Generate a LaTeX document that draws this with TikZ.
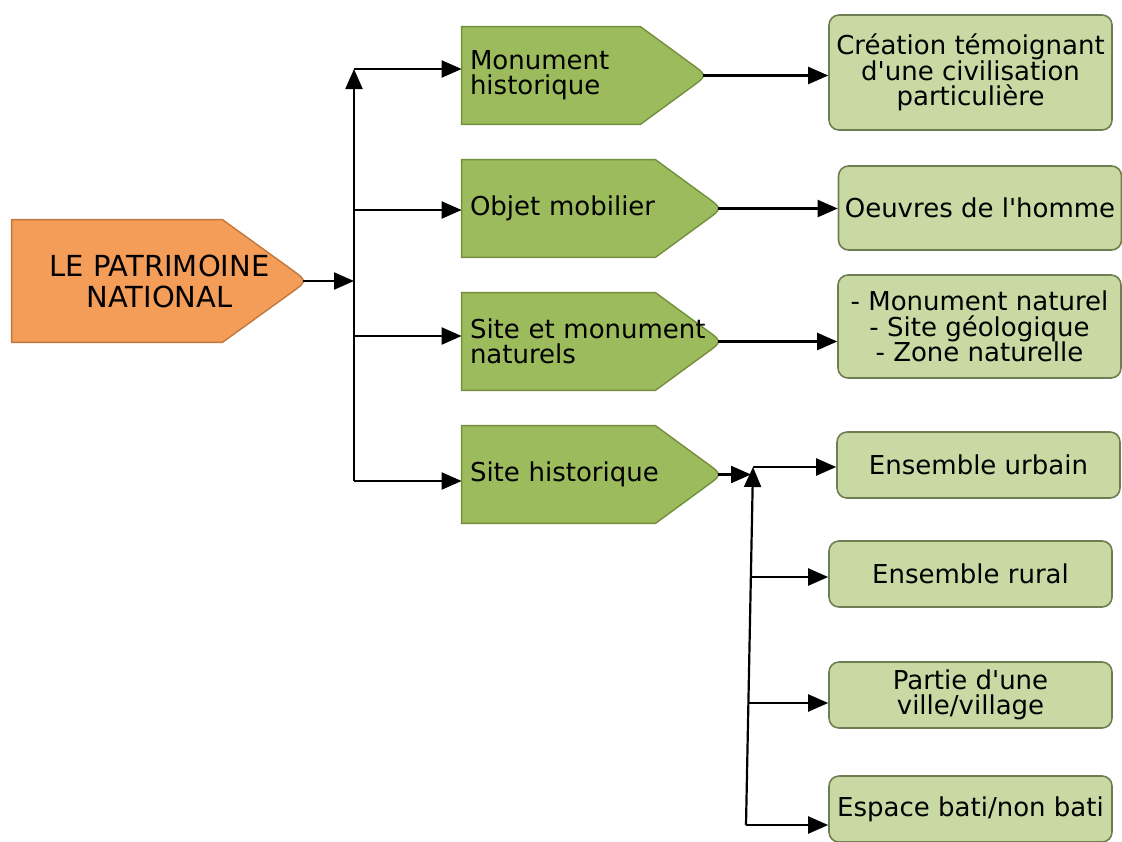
\documentclass[tikz,border=0pt]{standalone}
\usepackage{fontspec}
\newfontfamily\diafont{DejaVu Sans}
\usetikzlibrary{arrows.meta}
\usetikzlibrary{backgrounds}
\usepackage{xcolor}
\definecolor{rootorange}{HTML}{F49D59}
\definecolor{rootedge}{HTML}{C0783E}
\definecolor{flaggreen}{HTML}{9CBB5C}
\definecolor{flagedge}{HTML}{738F3E}
\definecolor{leafgreen}{HTML}{C8D9A3}
\definecolor{leafedge}{HTML}{6F7D52}

\begin{document}
\begin{tikzpicture}[
		% Style definitions
		x=0.5pt, y=-0.5pt,
		root/.style={minimum width=147.5pt, minimum height=61pt, inner sep=0pt, align=center, font=\diafont\fontsize{14.5}{15.5}\selectfont},
		flag/.style={minimum height=48.5pt, inner xsep=4pt, inner ysep=0pt, text width=122pt, align=left, font=\diafont\fontsize{13}{12.6}\selectfont},
		leaf/.style={draw=leafedge, fill=leafgreen, line width=0.8pt, rounded corners=5pt, minimum width=141.5pt, inner sep=0pt, align=center, font=\diafont\fontsize{13}{12.8}\selectfont},
		outline/.style={line width=0.7pt},
		arrow/.style={-{Triangle[length=10pt, width=8.5pt]}, line width=1.1pt},
		]
		\useasboundingbox (0,0) rectangle (1122,841);

		% === Root and main branches ===
		\node[root] (root) at (159.5,281) {LE PATRIMOINE\\NATIONAL};
		\node[flag, text width=114.5pt] (mon) at (584.5,75.5) {Monument\\historique};
		\node[flag] (obj) at (592,208.5) {Objet mobilier};
		\node[flag] (smn) at (592,341.5) {Site et monument\\naturels};
		\node[flag] (shist) at (592,474.5) {Site historique};

		% === Leaves ===
		\node[leaf, minimum height=57.5pt] (cre) at (970.5,72.5) {Création témoignant\\d'une civilisation\\particulière};
		\node[leaf, minimum height=42pt] (oeu) at (980,208) {Oeuvres de l'homme};
		\node[leaf, minimum height=51.5pt] (nat) at (979.5,326.5) {- Monument naturel\\- Site géologique\\- Zone naturelle};
		\node[leaf, minimum height=33pt] (urb) at (978.5,465) {Ensemble urbain};
		\node[leaf, minimum height=33pt] (rur) at (970.5,574) {Ensemble rural};
		\node[leaf, minimum height=33pt] (par) at (970.5,695) {Partie d'une\\ville/village};
		\node[leaf, minimum height=33pt] (esp) at (970.5,809) {Espace bati/non bati};

		% === Pentagon outlines behind the text ===
		\begin{scope}[on background layer]
			\draw[outline, draw=rootedge, fill=rootorange] (root.north west) -- ([xshift=-42.5pt]root.north east) -- ([shift={(-8pt,5.8pt)}]root.east) .. controls (root.east) .. ([shift={(-8pt,-5.8pt)}]root.east) -- ([xshift=-42.5pt]root.south east) -- (root.south west) -- cycle;
			\foreach \n in {mon,obj,smn,shist}
				\draw[outline, draw=flagedge, fill=flaggreen] (\n.north west) -- ([xshift=-33.5pt]\n.north east) -- ([shift={(-8pt,5.8pt)}]\n.east) .. controls (\n.east) .. ([shift={(-8pt,-5.8pt)}]\n.east) -- ([xshift=-33.5pt]\n.south east) -- (\n.south west) -- cycle;
		\end{scope}

		% === First trunk ===
		\coordinate (t1) at (354,69);
		\coordinate (t2) at (354,210);
		\coordinate (t0) at (354,281);
		\coordinate (t3) at (354,336);
		\coordinate (t4) at (354,481);
		\draw[arrow] ([xshift=-2pt]root.east) -- (t0);
		\draw[arrow] (t4) -- (t1);
		\draw[arrow] (t1) -- (t1 -| mon.west);
		\draw[arrow] (t2) -- (t2 -| obj.west);
		\draw[arrow] (t3) -- (t3 -| smn.west);
		\draw[arrow] (t4) -- (t4 -| shist.west);

		% === Branches to the leaves ===
		\draw[arrow] ([xshift=-2pt]mon.east) -- (mon.east -| cre.west);
		\draw[arrow] ([xshift=-2pt]obj.east) -- (obj.east -| oeu.west);
		\draw[arrow] ([xshift=-2pt]smn.east) -- (smn.east -| nat.west);

		% === Second trunk (Site historique) ===
		\coordinate (s0) at (751,474.5);
		\coordinate (s1) at (753,467);
		\coordinate (s2) at (750.8,577);
		\coordinate (s3) at (748.4,703);
		\coordinate (s4) at (746,825);
		\draw[arrow] ([xshift=-2pt]shist.east) -- (s0);
		\draw[arrow] (s4) -- (s1);
		\draw[arrow] (s1) -- (s1 -| urb.west);
		\draw[arrow] (s2) -- (s2 -| rur.west);
		\draw[arrow] (s3) -- (s3 -| par.west);
		\draw[arrow] (s4) -- (s4 -| esp.west);

	\end{tikzpicture}
\end{document}
